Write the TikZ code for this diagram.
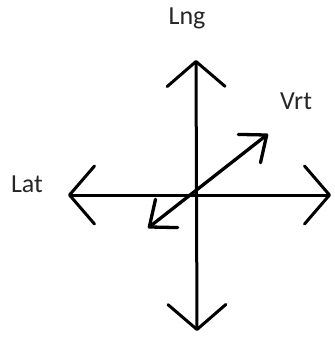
\documentclass[tikz,border=0pt]{standalone}
\usepackage{fontspec}
\setmainfont{Carlito}
\usetikzlibrary{positioning, arrows.meta}

\begin{document}
\begin{tikzpicture}[
    x=1pt, y=-1pt,
    axis/.style={line width=3pt, line cap=round,
        {Straight Barb[length=25pt, width=58pt, round]}-{Straight Barb[length=25pt, width=58pt, round]}},
    vrtaxis/.style={line width=3.3pt, line cap=round,
        {Straight Barb[length=22pt, width=36pt, round]}-{Straight Barb[length=22pt, width=36pt, round]}},
    label/.style={font=\fontsize{26}{30}\selectfont, text=black!85, anchor=base, inner sep=0pt}
]
    \useasboundingbox (0, 0) rectangle (334, 339);

    % Axis end points
    \coordinate (lng_top) at (196, 60);
    \coordinate (lng_bot) at (197, 331);
    \coordinate (lat_left) at (68, 195);
    \coordinate (lat_right) at (331, 195);
    \coordinate (vrt_low) at (148, 228);
    \coordinate (vrt_high) at (268, 134);

    % Axes
    \draw[axis] (lng_bot) -- (lng_top);
    \draw[axis] (lat_right) -- (lat_left);
    \draw[vrtaxis] (vrt_low) -- (vrt_high);

    % Labels
    \node[label] (lng) at (187, 25) {Lng};
    \node[label] (vrt) at (296, 110) {Vrt};
    \node[label] (lat) at (27, 192) {Lat};

\end{tikzpicture}
\end{document}
